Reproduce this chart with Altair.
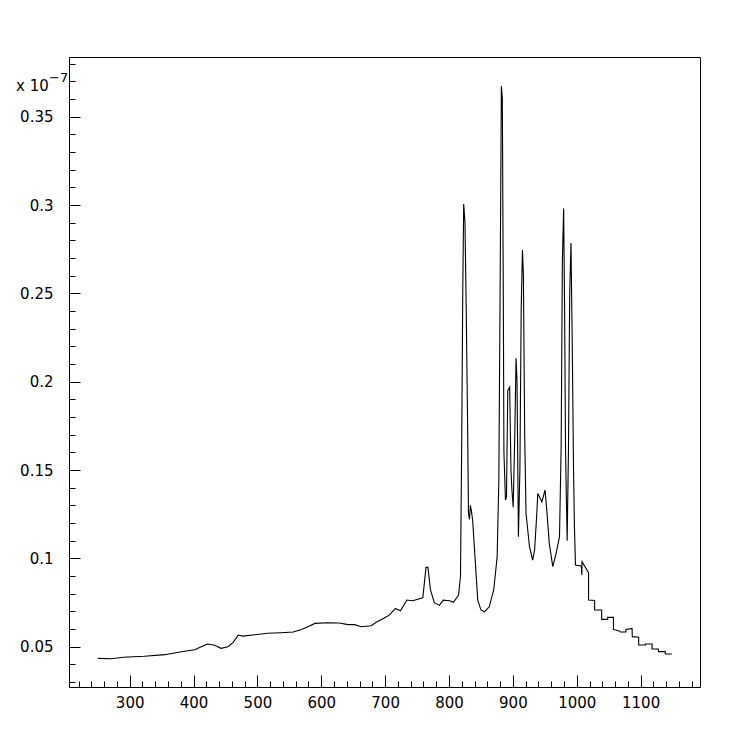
import altair as alt
import pandas as pd

# spectrum (x in nm-like units, y in units of 1e-7)
xs = [250, 271, 290, 323, 355, 370, 386, 402, 412, 422, 433, 443, 454, 462, 470, 477,
      496, 516, 537, 556, 569, 579, 590, 610, 628, 642, 652, 663, 678, 686, 698, 707,
      716, 724, 734, 743, 759, 764, 767, 771, 777, 785, 791, 801, 807, 815, 818, 820,
      821.5, 823, 825, 827, 829, 830.5, 832, 833.5, 835, 837, 841, 845, 850, 855.6, 863,
      870, 875.4, 878, 880, 882, 883.5, 885, 886, 888.4, 890, 892, 895, 897, 898.5, 900.5,
      903, 905, 906.5, 908.7, 911, 913, 915, 916.5, 918.5, 920.6, 926, 931, 934, 937.5,
      939, 945.4, 950.4, 953.5, 957, 962.5, 967.7, 973, 975.6, 977.5, 979.5, 981, 982.5,
      985, 987, 989, 991, 993, 995, 996.4, 998, 1007, 1008, 1008.3, 1018.5, 1018.5,
      1028, 1028, 1039, 1039, 1048.5, 1048.5, 1057.5, 1057.5, 1066.6, 1068, 1077, 1077,
      1086.6, 1087, 1097, 1097, 1107.6, 1107.6, 1118, 1118, 1128, 1128, 1138.6, 1138.6,
      1149]
ys = [0.0434, 0.0432, 0.0440, 0.0446, 0.0455, 0.0464, 0.0474, 0.0483, 0.0500, 0.0515,
      0.0508, 0.0491, 0.0500, 0.0525, 0.0566, 0.0560, 0.0568, 0.0576, 0.0579, 0.0583,
      0.0598, 0.0613, 0.0632, 0.0636, 0.0634, 0.0625, 0.0625, 0.0613, 0.0619, 0.0638,
      0.0661, 0.0680, 0.0717, 0.0704, 0.0764, 0.0760, 0.0777, 0.0949, 0.0949, 0.0821,
      0.0749, 0.0734, 0.0764, 0.0760, 0.0751, 0.0793, 0.0900, 0.1700, 0.2500, 0.3006,
      0.2900, 0.2400, 0.1800, 0.1257, 0.1220, 0.1300, 0.1270, 0.1217, 0.0990, 0.0764,
      0.0708, 0.0698, 0.0726, 0.0821, 0.1010, 0.1440, 0.2500, 0.3673, 0.3600, 0.2500,
      0.1600, 0.1330, 0.1350, 0.1950, 0.1970, 0.1500, 0.1387, 0.1290, 0.1700, 0.2133,
      0.2000, 0.1123, 0.1500, 0.2400, 0.2745, 0.2600, 0.1700, 0.1255, 0.1066, 0.0990,
      0.1047, 0.1255, 0.1368, 0.1320, 0.1387, 0.1255, 0.1085, 0.0953, 0.1029, 0.1123,
      0.1630, 0.2680, 0.2980, 0.2400, 0.1600, 0.1100, 0.1600, 0.2500, 0.2785, 0.2200,
      0.1500, 0.1180, 0.0962, 0.0957, 0.0906, 0.0981, 0.0919, 0.0764, 0.0762, 0.0708,
      0.0708, 0.0655, 0.0655, 0.0666, 0.0666, 0.0598, 0.0589, 0.0583, 0.0583, 0.0598,
      0.0604, 0.0557, 0.0554, 0.0510, 0.0510, 0.0515, 0.0515, 0.0487, 0.0487, 0.0472,
      0.0472, 0.0459, 0.0459]

x_ticks = [220, 240, 260, 280, 300, 320, 340, 360, 380, 400, 420, 440, 460, 480, 500,
           520, 540, 560, 580, 600, 620, 640, 660, 680, 700, 720, 740, 760, 780, 800,
           820, 840, 860, 880, 900, 920, 940, 960, 980, 1000, 1020, 1040, 1060, 1080,
           1100, 1120, 1140, 1160, 1180]
y_ticks = [0.03, 0.04, 0.05, 0.06, 0.07, 0.08, 0.09, 0.10, 0.11, 0.12, 0.13, 0.14,
           0.15, 0.16, 0.17, 0.18, 0.19, 0.20, 0.21, 0.22, 0.23, 0.24, 0.25, 0.26,
           0.27, 0.28, 0.29, 0.30, 0.31, 0.32, 0.33, 0.34, 0.35, 0.36, 0.37, 0.38]

x_domain = [205, 1193]
y_domain = [0.0272, 0.3838]

df = pd.DataFrame({"x": xs, "v": ys, "i": list(range(len(xs)))})

FONT = "DejaVu Sans"
FS = 15

x_axis = alt.Axis(
    values=x_ticks, offset=-12, tickSize=12, domain=False, grid=False,
    tickColor="black", tickWidth=1,
    tickDash={"condition": {"test": "datum.value % 100 === 0", "value": [20, 0]},
              "value": [0, 6, 6, 100]},
    labelExpr="datum.value % 100 === 0 ? format(datum.value, 'd') : ''",
    labelPadding=8, labelFont=FONT, labelFontSize=FS, labelColor="black",
    labelOverlap=False, labelFlush=False, title=None,
)
y_axis = alt.Axis(
    values=y_ticks, offset=-11, tickSize=11, domain=False, grid=False,
    tickColor="black", tickWidth=1,
    tickDash={"condition": {"test": "abs(datum.value*20 - round(datum.value*20)) < 0.001",
                            "value": [20, 0]},
              "value": [0, 5, 6, 100]},
    labelExpr="abs(datum.value*20 - round(datum.value*20)) < 0.001 ? format(datum.value, '.2~f') : ''",
    labelPadding=16, labelFont=FONT, labelFontSize=FS, labelColor="black",
    labelOverlap=False, labelFlush=False, title=None,
)

line = alt.Chart(df).mark_line(color="black", strokeWidth=1.1, clip=True).encode(
    x=alt.X("x:Q", scale=alt.Scale(domain=x_domain, nice=False, zero=False), axis=x_axis),
    y=alt.Y("v:Q", scale=alt.Scale(domain=y_domain, nice=False, zero=False), axis=y_axis),
    order=alt.Order("i:Q"),
)

exp_base = alt.Chart(pd.DataFrame({"t": ["x 10"]})).mark_text(
    font=FONT, fontSize=FS, align="left", baseline="alphabetic", color="black"
).encode(text="t:N", x=alt.value(-53), y=alt.value(34))
exp_pow = alt.Chart(pd.DataFrame({"t": ["\u22127"]})).mark_text(
    font=FONT, fontSize=13, align="left", baseline="alphabetic", color="black"
).encode(text="t:N", x=alt.value(-20), y=alt.value(25))

chart = alt.layer(line, exp_base, exp_pow).properties(
    width=631, height=630,
    autosize=alt.AutoSizeParams(type="none"),
    padding={"left": 61, "top": 49, "right": 40, "bottom": 50},
    background="white",
).configure_view(stroke="black", strokeWidth=1)

chart.save("out.html", embed_options={"renderer": "svg", "actions": False})
